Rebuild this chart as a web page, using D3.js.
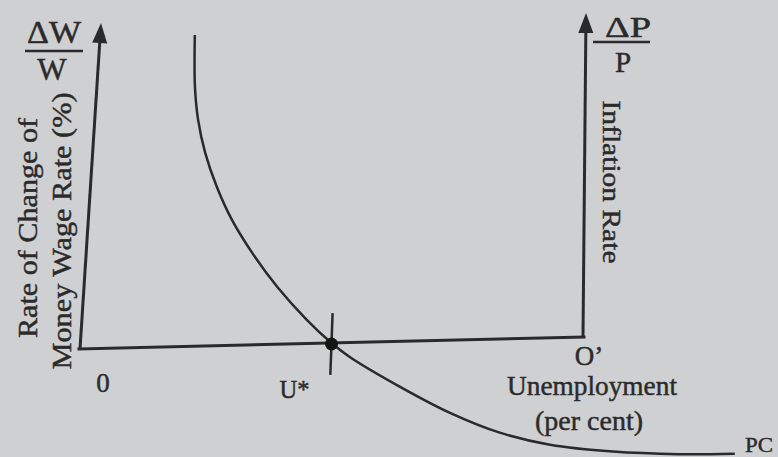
<!DOCTYPE html>
<html>
<head>
<meta charset="utf-8">
<title>Phillips Curve</title>
<script src="https://d3js.org/d3.v7.min.js"></script>
<style>
body { margin: 0; background: #cfd0d2; }
svg { display: block; }
text {
	font-family: 'Liberation Serif', 'Times New Roman', serif;
	fill: #2b2b2b;
	stroke: #2b2b2b;
	stroke-width: 0.45px;
}
</style>
</head>
<body>
<svg id="chart" width="778" height="457"></svg>
<script>

// axis extents (unemployment runs from 0 to O', rate axis from 0 to the arrow tip)
var uExtent = [0, 10];
var vExtent = [0, 10];

// Phillips curve (unemployment, rate of change)
var pcU = [1.95, 2.01, 2.11, 2.29, 2.56, 2.90, 3.34, 3.87, 4.49, 5.00, 5.38, 6.39, 7.39, 8.38, 9.37, 10.61, 11.9, 13.0];
var pcV = [9.57, 7.97, 6.96, 5.94, 4.89, 3.86, 2.83, 1.77, 0.73, 0.00, -0.45, -1.40, -2.24, -2.89, -3.30, -3.56, -3.69, -3.72];

// natural rate U* and its marker tick
var uStar = 5;
var uStarTick = [-0.98, 0.92];

var ink = '#2a2a2a';

var svg = d3.select('#chart');

svg.append('rect').attr('width', 778).attr('height', 457).attr('fill', '#cfd0d2');

var sx = d3.scaleLinear().domain(uExtent).range([0, 1]);
var sy = d3.scaleLinear().domain(vExtent).range([0, 1]);

// the page is photographed slightly askew, so the frame is a quad
var corners = { bl: [80, 349], br: [583, 337], tl: [101, 23], tr: [586, 13] };

function place(u, v) {
	var s = sx(u), t = sy(v);
	var x = (1-s)*(1-t)*corners.bl[0] + s*(1-t)*corners.br[0] + (1-s)*t*corners.tl[0] + s*t*corners.tr[0];
	var y = (1-s)*(1-t)*corners.bl[1] + s*(1-t)*corners.br[1] + (1-s)*t*corners.tl[1] + s*t*corners.tr[1];
	return [x, y];
}

function arrowAxis(from, to) {
	var a = place(from[0], from[1]), b = place(to[0], to[1]);
	var ang = Math.atan2(b[1]-a[1], b[0]-a[0]);
	var len = 20, half = 7.5;
	var back = [b[0] - len*Math.cos(ang), b[1] - len*Math.sin(ang)];
	svg.append('line')
		.attr('x1', a[0]).attr('y1', a[1])
		.attr('x2', back[0] + 4*Math.cos(ang)).attr('y2', back[1] + 4*Math.sin(ang))
		.attr('stroke', ink).attr('stroke-width', 3);
	var p1 = [back[0] - half*Math.sin(ang), back[1] + half*Math.cos(ang)];
	var p2 = [back[0] + half*Math.sin(ang), back[1] - half*Math.cos(ang)];
	svg.append('path')
		.attr('d', 'M' + b + 'L' + p1 + 'L' + p2 + 'Z')
		.attr('fill', ink);
}

// axes
arrowAxis([uExtent[0], vExtent[0]], [uExtent[0], vExtent[1]]);
arrowAxis([uExtent[1], vExtent[0]], [uExtent[1], vExtent[1]]);

var o = place(uExtent[0], vExtent[0]), o2 = place(uExtent[1], vExtent[0]);
svg.append('line')
	.attr('x1', o[0] - 1).attr('y1', o[1])
	.attr('x2', o2[0] + 1).attr('y2', o2[1])
	.attr('stroke', ink).attr('stroke-width', 3)
	.attr('stroke-linecap', 'square');

// U* tick
var t1 = place(uStar, uStarTick[0]), t2 = place(uStar, uStarTick[1]);
svg.append('line')
	.attr('x1', t1[0]).attr('y1', t1[1])
	.attr('x2', t2[0]).attr('y2', t2[1])
	.attr('stroke', ink).attr('stroke-width', 2.5);

// the curve
var pts = pcU.map(function(u, i) { return place(u, pcV[i]); });
var line = d3.line().curve(d3.curveCatmullRom.alpha(0.5));
svg.append('path')
	.attr('d', line(pts))
	.attr('fill', 'none')
	.attr('stroke', ink)
	.attr('stroke-width', 2.5);

var dot = place(uStar, 0);
svg.append('circle')
	.attr('cx', dot[0]).attr('cy', dot[1] + 1)
	.attr('r', 6.5)
	.attr('fill', '#151515');

// labels
function label(txt, x, y, size, anchor, len, rot) {
	var t = svg.append('text')
		.text(txt)
		.attr('font-size', size)
		.attr('text-anchor', anchor);
	if (len) t.attr('textLength', len).attr('lengthAdjust', 'spacingAndGlyphs');
	if (rot) t.attr('transform', 'translate(' + x + ',' + y + ') rotate(' + rot + ')');
	else t.attr('x', x).attr('y', y);
	return t;
}

var tl = place(uExtent[0], vExtent[1]);
var tr = place(uExtent[1], vExtent[1]);

// ΔW / W
label('ΔW', tl[0] - 47, tl[1] + 20, 31, 'middle', 54);
svg.append('line')
	.attr('x1', tl[0] - 76).attr('x2', tl[0] - 18)
	.attr('y1', tl[1] + 28).attr('y2', tl[1] + 28)
	.attr('stroke', ink).attr('stroke-width', 2.5);
label('W', tl[0] - 49, tl[1] + 57, 31, 'middle');

// ΔP / P
label('ΔP', tr[0] + 42, tr[1] + 24, 29, 'middle', 46);
svg.append('line')
	.attr('x1', tr[0] + 7).attr('x2', tr[0] + 64)
	.attr('y1', tr[1] + 29).attr('y2', tr[1] + 29)
	.attr('stroke', ink).attr('stroke-width', 2.5);
label('P', tr[0] + 37, tr[1] + 59, 29, 'middle');

label('Rate of Change of', 37, 228, 28, 'middle', 220, -90);
label('Money Wage Rate (%)', 71, 231, 28, 'middle', 277, -90);
label('Inflation Rate', 603, 182, 26, 'middle', 163, 90);

label('0', o[0] + 23, 392, 27, 'middle');
label('U*', dot[0] - 37, 398, 26, 'middle', 30);
label('O’', o2[0] + 6, 365, 27, 'middle');
label('Unemployment', 592, 395, 27, 'middle', 170);
label('(per cent)', 589, 430, 27, 'middle', 108);
label('PC', 745, 452, 22, 'start', 28);

</script>
</body>
</html>
